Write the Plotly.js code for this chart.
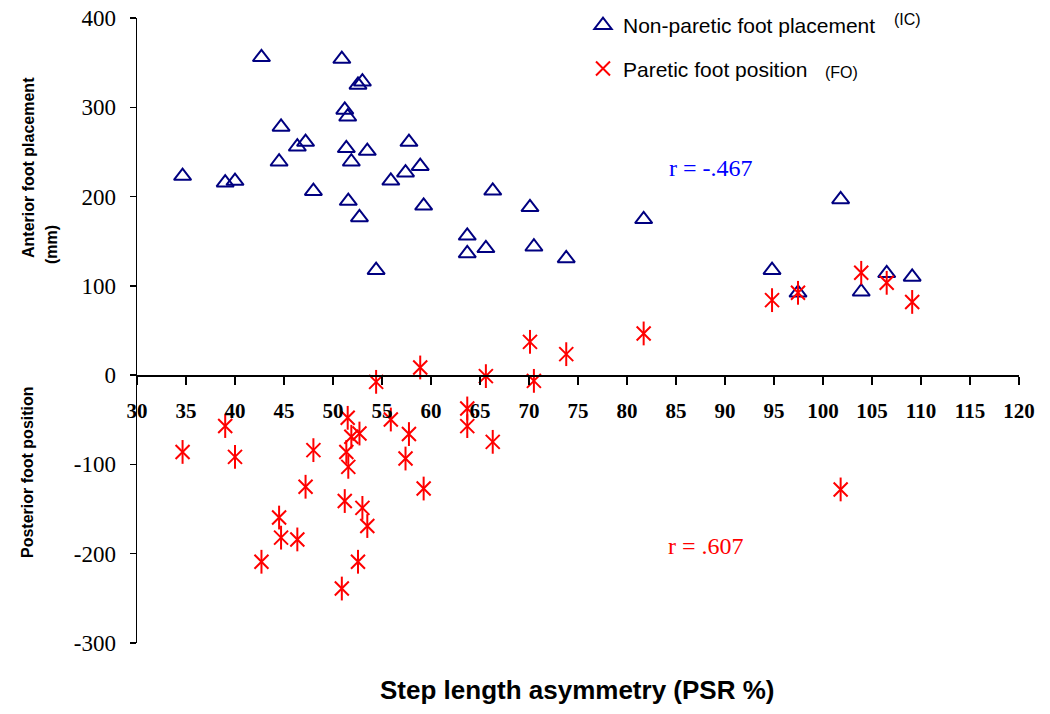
<!DOCTYPE html>
<html>
<head>
<meta charset="utf-8">
<script src="https://cdn.plot.ly/plotly-3.0.1.min.js"></script>
<style>html,body{margin:0;padding:0;background:#fff;}#chart{width:1050px;height:714px;}</style>
</head>
<body>
<div id="chart"></div>
<script>
// Step length asymmetry (PSR %) per subject
const stepAsymmetryPSR = [34.65, 39.0, 40.0, 42.7, 44.5, 44.7, 46.36, 47.2, 48.0, 50.9, 51.2, 51.36, 51.5, 51.56, 51.87, 52.55, 52.7, 53.0, 53.5, 54.4, 55.9, 57.4, 57.75, 58.9, 59.25, 63.7, 63.7, 65.6, 66.3, 70.1, 70.5, 73.8, 81.7, 94.8, 97.45, 101.8, 103.9, 106.5, 109.1];
// Non-paretic foot placement (IC), mm
const nonPareticPlacement = [223, 215.5, 217.4, 356, 239, 278, 255.8, 261, 206, 354, 297, 254, 289.4, 195, 239, 325, 176.7, 328.6, 251, 117.6, 217.7, 226.7, 261, 234, 189.7, 156, 136.3, 142, 206.5, 188, 143.8, 130.7, 174.5, 117.6, 92.2, 196.8, 93.4, 114, 110];
// Paretic foot position (FO), mm
const pareticPosition = [-86, -57, -91.5, -209, -159.5, -182, -184, -125, -84, -239, -141, -86, -47.8, -102.7, -69, -209, -65.4, -148.7, -169, -7.5, -49.7, -93.4, -66, 8.6, -127, -37.3, -57.1, -1.1, -74.7, 37.3, -6.4, 23.5, 46.7, 84, 92.2, -128, 114.6, 103.4, 82];

const yTickValues = [-300, -200, -100, 0, 100, 200, 300, 400];
const yTickLabels = ["-300", "-200", "-100", "0", "100", "200", "300", "400"];

const seriesNames = ["Non-paretic foot placement", "Paretic foot position"];
const seriesTags = ["(IC)", "(FO)"];
const rLabels = ["r = -.467", "r = .607"];
const xTitle = "Step length asymmetry (PSR %)";
const yTitleTop = "Anterior foot placement";
const yTitleBottom = "Posterior foot position";
const yTitleUnit = "(mm)";

const serif = "Liberation Serif";
const sans = "Liberation Sans";

const traces = [
  {x: stepAsymmetryPSR, y: nonPareticPlacement, type: "scatter", mode: "markers", name: seriesNames[0],
   legendgroup: "a",
   marker: {symbol: "triangle-up-open", size: 15, color: "#000080", line: {color: "#000080", width: 2}}},
  {x: stepAsymmetryPSR, y: pareticPosition, type: "scatter", mode: "markers", name: seriesNames[1],
   legendgroup: "b",
   marker: {symbol: "x-thin-open", size: 14, color: "#ff0000", line: {color: "#ff0000", width: 2}}},
  {x: stepAsymmetryPSR, y: pareticPosition, type: "scatter", mode: "markers", name: seriesNames[1],
   legendgroup: "b", showlegend: false,
   marker: {symbol: "line-ns-open", size: 17, color: "#ff0000", line: {color: "#ff0000", width: 2}}}
];

const L = 137, R = 1019, T = 18, B = 643;
const px = v => (v - L) / (R - L);
const py = v => (B - v) / (B - T);

const layout = {
  width: 1050, height: 714,
  margin: {l: L, r: 1050 - R, t: T, b: 714 - B, pad: 0, autoexpand: false},
  paper_bgcolor: "#ffffff", plot_bgcolor: "#ffffff",
  font: {family: serif, color: "#000"},
  showlegend: true,
  legend: {x: px(583), y: py(5), xanchor: "left", yanchor: "top",
           font: {family: sans, size: 21, color: "#000"},
           traceorder: "grouped", tracegroupgap: 13, bgcolor: "rgba(0,0,0,0)"},
  xaxis: {range: [30, 120], dtick: 5, tick0: 30, anchor: "free", position: 3/7,
          showline: true, linecolor: "#000", linewidth: 1.5, ticks: "outside", ticklen: 8,
          tickwidth: 1.5, tickcolor: "#000", showgrid: false, zeroline: false,
          ticklabelstandoff: 8,
          tickfont: {family: serif, size: 21, color: "#000", weight: "bold"}},
  yaxis: {range: [-300, 400], tickmode: "array", tickvals: yTickValues, ticktext: yTickLabels,
          showline: true, linecolor: "#000", linewidth: 1.5,
          ticks: "outside", ticklen: 6, tickwidth: 1.5, tickcolor: "#000",
          showgrid: false, zeroline: false, ticklabelstandoff: 9,
          tickfont: {family: serif, size: 23, color: "#000"}},
  annotations: [
    {xref: "paper", yref: "paper", x: px(577), y: py(690), text: "<b>" + xTitle + "</b>", showarrow: false,
     font: {family: sans, size: 26, color: "#000"}, xanchor: "center", yanchor: "middle"},
    {xref: "paper", yref: "paper", x: px(28), y: py(168), text: "<b>" + yTitleTop + "</b>", showarrow: false,
     textangle: -90, font: {family: sans, size: 16, color: "#000"}, xanchor: "center", yanchor: "middle"},
    {xref: "paper", yref: "paper", x: px(28), y: py(472), text: "<b>" + yTitleBottom + "</b>", showarrow: false,
     textangle: -90, font: {family: sans, size: 16, color: "#000"}, xanchor: "center", yanchor: "middle"},
    {xref: "paper", yref: "paper", x: px(52), y: py(245), text: "<b>" + yTitleUnit + "</b>", showarrow: false,
     textangle: -90, font: {family: sans, size: 16, color: "#000"}, xanchor: "center", yanchor: "middle"},
    {xref: "paper", yref: "paper", x: px(907), y: py(20), text: seriesTags[0], showarrow: false,
     font: {family: sans, size: 16, color: "#000"}, xanchor: "center", yanchor: "middle"},
    {xref: "paper", yref: "paper", x: px(841), y: py(72), text: seriesTags[1], showarrow: false,
     font: {family: sans, size: 16, color: "#000"}, xanchor: "center", yanchor: "middle"},
    {xref: "paper", yref: "paper", x: px(711), y: py(168), text: rLabels[0], showarrow: false,
     font: {family: serif, size: 24, color: "#0000ff"}, xanchor: "center", yanchor: "middle"},
    {xref: "paper", yref: "paper", x: px(706), y: py(546), text: rLabels[1], showarrow: false,
     font: {family: serif, size: 24, color: "#ff0000"}, xanchor: "center", yanchor: "middle"}
  ]
};

Plotly.newPlot("chart", traces, layout, {displayModeBar: false, staticPlot: true});
</script>
</body>
</html>
